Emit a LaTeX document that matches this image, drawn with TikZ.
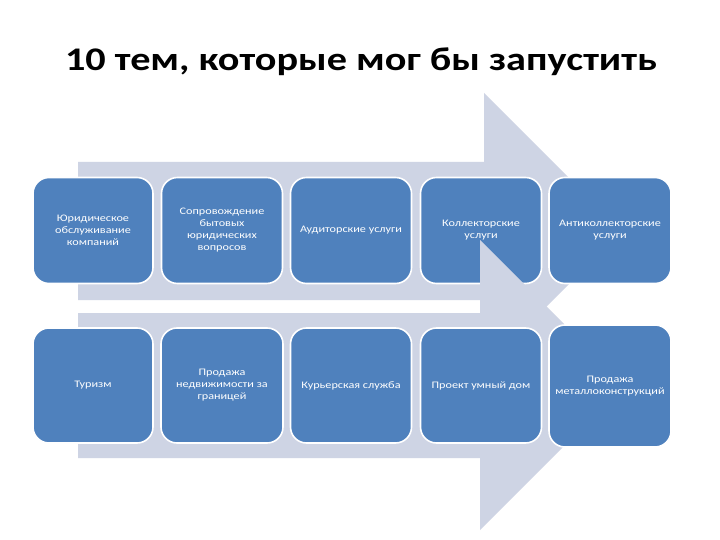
\documentclass[tikz,border=0pt]{standalone}
\usepackage{fontspec}
\setmainfont{Carlito}[FakeStretch=1.22]
\newfontfamily\titlefont{Carlito}[FakeStretch=1.22]
\definecolor{boxblue}{HTML}{4F81BD}
\definecolor{arrowgray}{HTML}{CED4E4}
\begin{document}
\begin{tikzpicture}[x=1bp,y=-1bp,
  bigarrow/.style={fill=arrowgray,draw=none},
  topic/.style={draw=white,line width=1.6bp,fill=boxblue,rounded corners=16bp,
    text=white,align=center,inner sep=0pt,
    font=\fontsize{10bp}{12bp}\selectfont},
  heading/.style={font=\titlefont\bfseries\fontsize{33bp}{38bp}\selectfont,text=black,anchor=base}]
\useasboundingbox[fill=white] (0,0) rectangle (720,540);
\node[heading] (title) at (361,71) {10 тем, которые мог бы запустить};
% first arrow
\fill[bigarrow] (78,162) -- (484,162) -- (484,93) -- (622,231) -- (484,369) -- (484,300) -- (78,300) -- cycle;
% row 1
\node[topic,minimum width=120bp,minimum height=106bp] (a1) at (93,230.5) {Юридическое\\обслуживание\\компаний};
\node[topic,minimum width=121bp,minimum height=106bp] (a2) at (222,230.5) {Сопровождение\\бытовых\\юридических\\вопросов};
\node[topic,minimum width=121bp,minimum height=106bp] (a3) at (351,230.5) {Аудиторские услуги};
\node[topic,minimum width=121bp,minimum height=106bp] (a4) at (481,230.5) {Коллекторские\\услуги};
\node[topic,minimum width=122bp,minimum height=106bp] (a5) at (610,230.5) {Антиколлекторские\\услуги};
% second arrow
\fill[bigarrow] (78,313) -- (480,313) -- (480,240) -- (625,385) -- (480,530) -- (480,458) -- (78,458) -- cycle;
% row 2
\node[topic,minimum width=120bp,minimum height=115bp] (b1) at (93,385.5) {Туризм};
\node[topic,minimum width=122bp,minimum height=115bp] (b2) at (222,385.5) {Продажа\\недвижимости за\\границей};
\node[topic,minimum width=121bp,minimum height=115bp] (b3) at (351,385.5) {Курьерская служба};
\node[topic,minimum width=121bp,minimum height=115bp] (b4) at (481,385.5) {Проект умный дом};
\node[topic,minimum width=122bp,minimum height=122bp] (b5) at (610,386) {Продажа\\металлоконструкций};
\end{tikzpicture}
\end{document}
